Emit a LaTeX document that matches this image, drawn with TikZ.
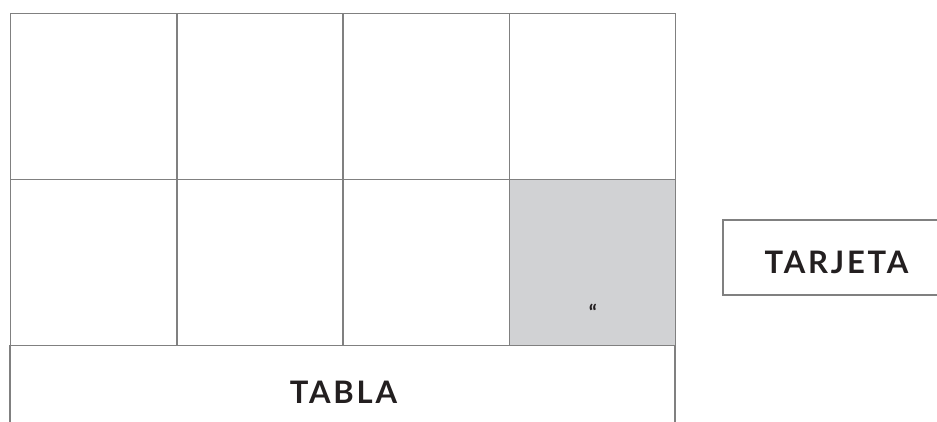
\documentclass[tikz,border=0pt]{standalone}
\usepackage{fontspec}
\setmainfont{Lato}
\newfontfamily\spacedfont[LetterSpace=9]{Lato}
\definecolor{linegray}{HTML}{808080}
\definecolor{cellgray}{HTML}{D1D2D4}
\definecolor{txt}{HTML}{231F20}
\begin{document}
\begin{tikzpicture}[x=1pt,y=-1pt,
  gridline/.style={draw=linegray,line width=1.4pt},
  celltext/.style={font=\spacedfont\bfseries\fontsize{31}{34}\selectfont,text=txt,inner sep=0pt},
  cell/.style={gridline,minimum width=166pt,minimum height=166pt,inner sep=0pt,anchor=north west}]
\useasboundingbox (0,0) rectangle (937,421);
% grid cells
\node[cell] (c11) at (10,13) {};
\node[cell] (c12) at (176.25,13) {};
\node[cell] (c13) at (342.5,13) {};
\node[cell] (c14) at (508.75,13) {};
\node[cell] (c21) at (10,179) {};
\node[cell] (c22) at (176.25,179) {};
\node[cell] (c23) at (342.5,179) {};
\node[cell,fill=cellgray] (c24) at (508.75,179) {};
% bottom open area
\draw[gridline] (10,345) -- (10,425);
\draw[gridline] (675,345) -- (675,425);
\node[celltext] (tabla) at (343.5,392.5) {TABLA};
\node[font=\bfseries\fontsize{21}{23}\selectfont,text=txt,inner sep=0pt] (q) at (593,312) {“};
% tarjeta
\draw[gridline] (950,220) -- (723,220) -- (723,295) -- (950,295);
\node[celltext] (tarjeta) at (836.5,262) {TARJETA};
\end{tikzpicture}
\end{document}
